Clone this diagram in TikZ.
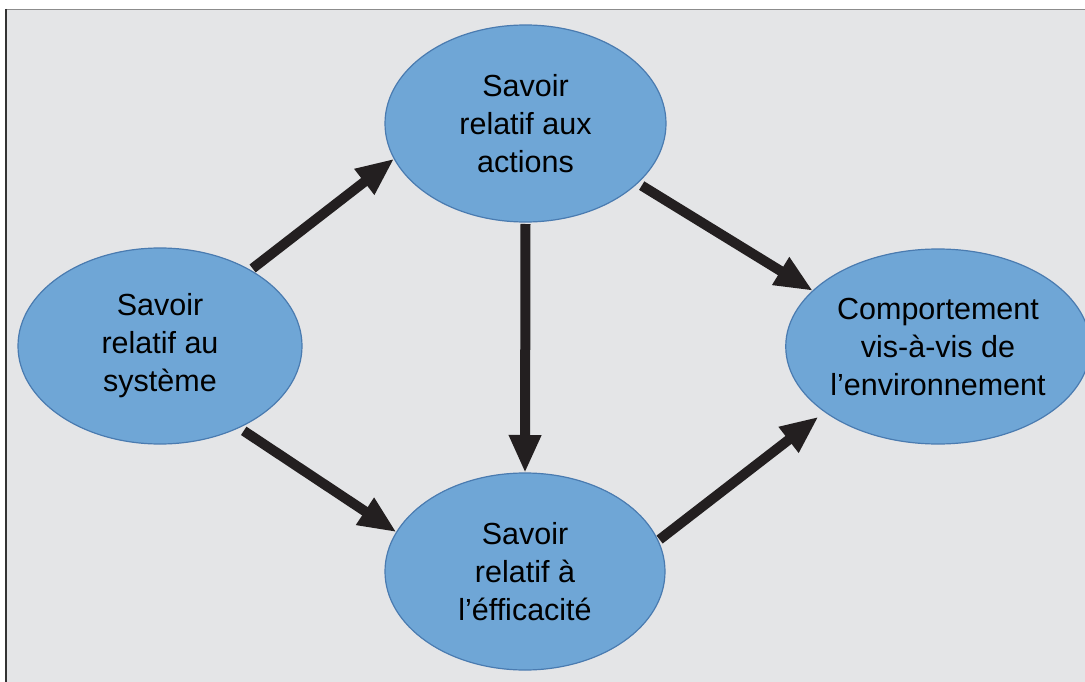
\documentclass[tikz,border=0pt]{standalone}
\usepackage{fontspec}
\setmainfont{Liberation Sans}
\usetikzlibrary{shapes.geometric,arrows.meta}
\definecolor{bg}{HTML}{E4E5E7}
\definecolor{ellfill}{HTML}{6FA6D6}
\definecolor{elldraw}{HTML}{4A7BB0}
\definecolor{arr}{HTML}{231F20}
\tikzset{
  bub/.style={ellipse, fill=ellfill, draw=elldraw, line width=1.2pt, align=center,
    font=\fontsize{30.5}{38}\selectfont, inner sep=0pt, outer sep=0pt},
  arrowline/.style={draw=arr, line width=10pt, -{Triangle[width=30pt,length=38pt]}}
}
\begin{document}
\begin{tikzpicture}[x=1pt,y=-1pt]
\useasboundingbox (0,0) rectangle (1085,682);
\fill[white] (0,0) rectangle (1085,682);
\fill[bg] (7,9) rectangle (1085,682);
\draw[black!45, line width=1pt] (7,9.5) -- (1085,9.5);
\draw[black!80, line width=2pt] (6,9) -- (6,682);

\node[bub, minimum width=281pt, minimum height=197pt] (act) at (525.5,123.5) {Savoir\\relatif aux\\actions};
\node[bub, minimum width=284pt, minimum height=196pt] (sys) at (160,346) {Savoir\\relatif au\\système};
\node[bub, minimum width=280pt, minimum height=197pt] (eff) at (525,571.5) {Savoir\\relatif à\\l’éfficacité};
\node[bub, minimum width=282pt, minimum height=195pt] (env) at (938,346.5) {Comportement\\vis-à-vis de\\l’environnement};

\draw[arrowline, shorten <=3pt] (sys.40) -- (act.195);
\draw[arrowline, shorten <=5pt] (act.-28) -- (env.156);
\draw[arrowline, shorten <=2pt] (act.270) -- (eff.90);
\draw[arrowline, shorten <=6pt] (sys.-46) -- (eff.163);
\draw[arrowline, shorten <=2pt, shorten >=8pt] (eff.13) -- (env.210);
\end{tikzpicture}
\end{document}
